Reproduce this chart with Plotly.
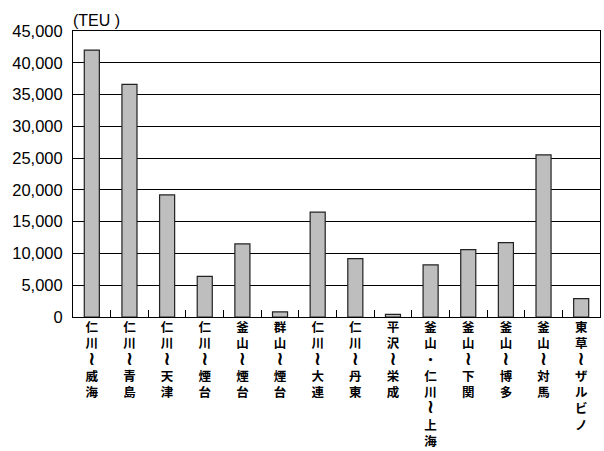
import plotly.graph_objects as go

# Container traffic by ferry route (TEU)
routes = ["仁川～威海", "仁川～青島", "仁川～天津", "仁川～煙台", "釜山～煙台",
          "群山～煙台", "仁川～大連", "仁川～丹東", "平沢～栄成", "釜山・仁川～上海",
          "釜山～下関", "釜山～博多", "釜山～対馬", "東草～ザルビノ"]
teu = [42000, 36600, 19200, 6400, 11500, 800, 16500, 9200, 400, 8200,
       10600, 11700, 25500, 2900]
y_ticks = [0, 5000, 10000, 15000, 20000, 25000, 30000, 35000, 40000, 45000]
unit_label = "(TEU )"

WAVE = '<span style="font-family:\'DejaVu Sans\';font-size:19px">≀</span>'


def vertical(name):
    # stack characters top-to-bottom; the wave dash turns upright
    return "<br>".join(WAVE if c == "～" else c for c in name)


fig = go.Figure(go.Bar(
    x=routes,
    y=teu,
    width=0.4,
    marker=dict(color="#BEBEBE", line=dict(color="#222222", width=1.2)),
))

fig.update_layout(
    width=604, height=451,
    margin=dict(l=73, r=4, t=31, b=134),
    paper_bgcolor="white", plot_bgcolor="white",
    showlegend=False,
    bargap=0.6,
)

fig.update_xaxes(
    type="category",
    tickvals=routes,
    ticktext=[vertical(r) for r in routes],
    tickson="boundaries",
    ticks="inside", ticklen=7, tickcolor="black", tickwidth=1,
    showgrid=False,
    showline=True, linecolor="black", linewidth=1, mirror=True,
    tickfont=dict(family="Noto Sans CJK JP", size=12.5, color="black", weight="bold"),
    tickangle=0,
    ticklabelstandoff=-1,
    automargin=False,
)

fig.update_yaxes(
    range=[0, 45000],
    tickvals=y_ticks,
    ticktext=[f"{v:,}" for v in y_ticks],
    showgrid=True, gridcolor="black", gridwidth=1,
    showline=True, linecolor="black", linewidth=1, mirror=True,
    zeroline=False,
    ticks="",
    ticklabelstandoff=6,
    tickfont=dict(family="Liberation Sans, Arial", size=16.5, color="black"),
    automargin=False,
)

fig.add_annotation(
    text=unit_label, xref="paper", yref="paper",
    x=0, y=1, xanchor="left", yanchor="bottom", yshift=0, xshift=-2,
    showarrow=False,
    font=dict(family="Liberation Sans, Arial", size=16, color="black"),
)

fig.write_html("out.html")
